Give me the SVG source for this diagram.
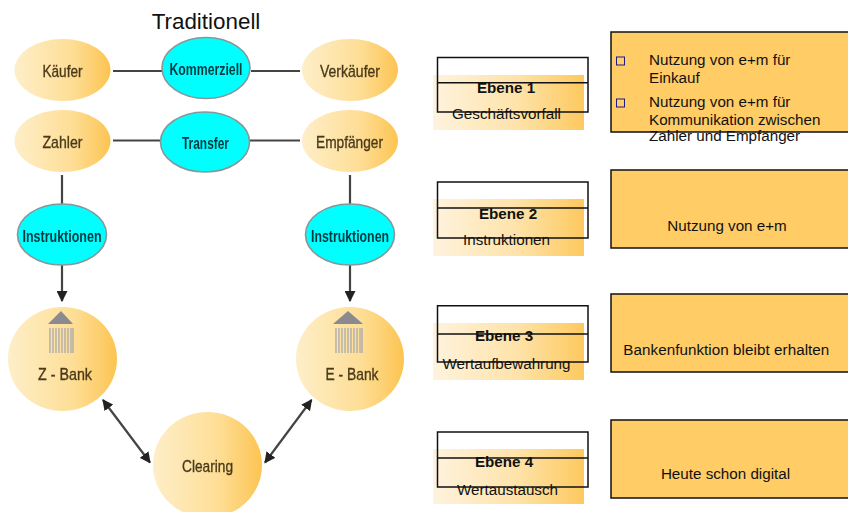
<svg xmlns="http://www.w3.org/2000/svg" width="848" height="512" viewBox="0 0 848 512">
<style>
text{font-family:"Liberation Sans",Arial,sans-serif}
.t{font-size:15.2px;fill:#111}
.m{text-anchor:middle}
.b{font-weight:bold}
.l{font-size:17px;fill:#4a3a1a;text-anchor:middle;stroke:#4a3a1a;stroke-width:.35;filter:url(#s)}
.c{font-size:17px;fill:#063a40;text-anchor:middle;font-weight:bold;filter:url(#s)}
.o{fill:url(#h);filter:url(#s)}
.y{fill:#0ff;stroke:#86989a;stroke-width:1.6;filter:url(#s)}
.box{fill:#fc6;stroke:#111;stroke-width:1.5}
.out{fill:none;stroke:#111;stroke-width:1.5}
.band{fill:url(#g)}
.bul{fill:none;stroke:#1a1a8c;stroke-width:1}
.ln{stroke:#444;stroke-width:2.2;fill:none}
.roof{fill:#8a8a8f}
.col{stroke:#a9a9ad;stroke-width:1.3}
</style>
<defs>
<linearGradient id="g" x1="0" x2="1" y1="0" y2="0"><stop offset="0" stop-color="#fff3de"/><stop offset=".55" stop-color="#fee3aa"/><stop offset="1" stop-color="#fdc95f"/></linearGradient>
<linearGradient id="h" x1="0" x2="1" y1="0" y2="0"><stop offset="0" stop-color="#feeec8"/><stop offset=".6" stop-color="#fede96"/><stop offset="1" stop-color="#fcc452"/></linearGradient>
<filter id="s" x="-5%" y="-10%" width="110%" height="120%"><feGaussianBlur stdDeviation=".55"/></filter>
<marker id="a" viewBox="0 0 10 10" refX="9" refY="5" markerWidth="5" markerHeight="5" orient="auto-start-reverse"><path d="M0 0L10 5L0 10z" fill="#222"/></marker>
</defs>
<text x="206" y="29" class="m" font-size="22.400" fill="#111" id="title">Traditionell</text>
<g id="connectors">
<path class="ln" d="M113 71H162M251 71H300M113 140.500H161M250 140.500H300M62 175V204M350 175V204"/>
<path class="ln" d="M62 265V301" marker-end="url(#a)"/>
<path class="ln" d="M350 265V301" marker-end="url(#a)"/>
<path class="ln" d="M103 400L150 462.500" marker-start="url(#a)" marker-end="url(#a)"/>
<path class="ln" d="M311.500 400L265 462.500" marker-start="url(#a)" marker-end="url(#a)"/>
</g>
<g id="kaeufer"><ellipse class="o" cx="62.500" cy="70" rx="48" ry="31"/><text class="l" x="62.500" y="77" textLength="40" lengthAdjust="spacingAndGlyphs">Käufer</text></g>
<g id="kommerziell"><ellipse class="y" cx="206" cy="68" rx="44" ry="30.500"/><text class="c" x="206" y="75" textLength="73" lengthAdjust="spacingAndGlyphs">Kommerziell</text></g>
<g id="verkaeufer"><ellipse class="o" cx="350" cy="70" rx="48" ry="31"/><text class="l" x="350" y="77" textLength="60" lengthAdjust="spacingAndGlyphs">Verkäufer</text></g>
<g id="zahler"><ellipse class="o" cx="62.500" cy="141" rx="48" ry="31"/><text class="l" x="62.500" y="147.700" textLength="40" lengthAdjust="spacingAndGlyphs">Zahler</text></g>
<g id="transfer"><ellipse class="y" cx="205" cy="142" rx="44.500" ry="30"/><text class="c" x="205.500" y="149" textLength="47" lengthAdjust="spacingAndGlyphs">Transfer</text></g>
<g id="empfaenger"><ellipse class="o" cx="350" cy="141" rx="48" ry="31"/><text class="l" x="349.500" y="147.700" textLength="67" lengthAdjust="spacingAndGlyphs">Empfänger</text></g>
<g id="instruktionen-l"><ellipse class="y" cx="62" cy="234.500" rx="44.500" ry="30.500"/><text class="c" x="62" y="241.700" textLength="79" lengthAdjust="spacingAndGlyphs">Instruktionen</text></g>
<g id="instruktionen-r"><ellipse class="y" cx="350" cy="234.500" rx="44.500" ry="30.500"/><text class="c" x="350" y="241.700" textLength="78" lengthAdjust="spacingAndGlyphs">Instruktionen</text></g>
<g id="z-bank"><ellipse class="o" cx="62.500" cy="359" rx="54.500" ry="52"/>
<g filter="url(#s)"><path class="roof" d="M61 311L73 324H48z"/><path class="col" d="M50 328V353M53 328V353M56 328V353M59 328V353M62 328V353M65 328V353M68 328V353M71 328V353M73 328V353"/></g>
<text class="l" x="65" y="380" textLength="54" lengthAdjust="spacingAndGlyphs">Z - Bank</text></g>
<g id="e-bank"><ellipse class="o" cx="350" cy="359" rx="54" ry="52"/>
<g filter="url(#s)"><path class="roof" d="M348 311L363 324H333z"/><path class="col" d="M336 328V353M339 328V353M342 328V353M345 328V353M348 328V353M351 328V353M354 328V353M357 328V353M360 328V353M362 328V353"/></g>
<text class="l" x="352" y="380" textLength="53" lengthAdjust="spacingAndGlyphs">E - Bank</text></g>
<g id="clearing"><ellipse class="o" cx="207.500" cy="465" rx="54.500" ry="53"/><text class="l" x="207.500" y="472" textLength="51" lengthAdjust="spacingAndGlyphs">Clearing</text></g>

<g id="ebene1"><rect class="band" x="433" y="75" width="151" height="55"/><text class="t m b" x="506" y="92.700">Ebene 1</text><text class="t m" x="506.500" y="118.700">Geschäftsvorfall</text><path class="out" d="M437.500 57.500H588V112H437.500zM437.500 82.700H588"/></g>
<g id="ebene2"><rect class="band" x="433" y="199" width="151" height="57"/><text class="t m b" x="508" y="219">Ebene 2</text><text class="t m" x="506.500" y="245">Instruktionen</text><path class="out" d="M437.500 182H588V238H437.500zM437.500 208H588"/></g>
<g id="ebene3"><rect class="band" x="433" y="323" width="151" height="57"/><text class="t m b" x="504" y="341">Ebene 3</text><text class="t m" x="506.500" y="369">Wertaufbewahrung</text><path class="out" d="M437.500 305.700H588V362H437.500zM437.500 334H588"/></g>
<g id="ebene4"><rect class="band" x="433" y="449" width="151" height="55"/><text class="t m b" x="504" y="466.700">Ebene 4</text><text class="t m" x="507.500" y="495">Wertaustausch</text><path class="out" d="M437.500 432H588V487H437.500zM437.500 458H588"/></g>

<g id="info1"><rect class="box" x="611" y="32" width="240" height="100"/>
<rect class="bul" x="616.500" y="57" width="8" height="8"/><rect class="bul" x="616.500" y="99" width="8" height="8"/>
<text class="t" x="649" y="65">Nutzung von e+m für</text><text class="t" x="649" y="82.700">Einkauf</text>
<text class="t" x="649" y="106.700">Nutzung von e+m für</text><text class="t" x="649" y="125">Kommunikation zwischen</text><text class="t" x="649" y="140.700">Zahler und Empfänger</text></g>
<g id="info2"><rect class="box" x="611" y="170" width="240" height="78"/><text class="t m" x="727" y="230.700">Nutzung von e+m</text></g>
<g id="info3"><rect class="box" x="611" y="294" width="240" height="78"/><text class="t" x="623.300" y="355" textLength="206">Bankenfunktion bleibt erhalten</text></g>
<g id="info4"><rect class="box" x="611" y="420" width="240" height="78"/><text class="t m" x="725.500" y="479">Heute schon digital</text></g>
</svg>
